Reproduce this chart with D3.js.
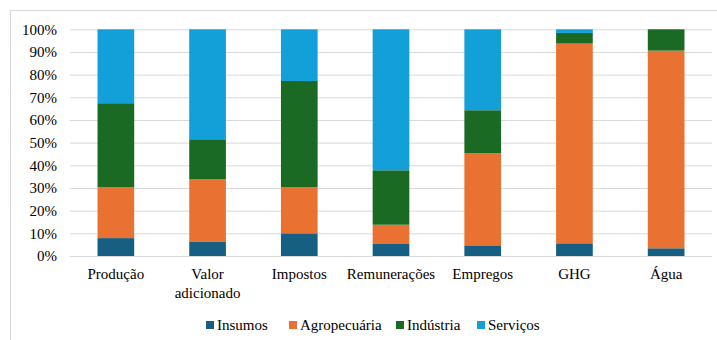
<!DOCTYPE html>
<html><head><meta charset="utf-8">
<script src="https://cdn.jsdelivr.net/npm/d3@7"></script>
<style>body{margin:0;background:#fff}svg{display:block}</style>
</head><body><svg id="c" width="717" height="340" style="font-family:'Liberation Serif',serif"></svg>
<script>
const categories = ["Produção", "Valor adicionado", "Impostos", "Remunerações", "Empregos", "GHG", "Água"];
const seriesNames = ["Insumos", "Agropecuária", "Indústria", "Serviços"];
const insumos      = [7.9, 6.2, 10.0, 5.3, 4.7, 5.6, 3.4];
const agropecuaria = [22.5, 27.6, 20.4, 8.5, 40.7, 88.1, 87.2];
const industria    = [37.0, 17.7, 46.8, 24.0, 18.9, 4.7, 9.4];
const servicos     = [32.6, 48.5, 22.8, 62.2, 35.7, 1.6, 0.0];
const yTicks = [0, 10, 20, 30, 40, 50, 60, 70, 80, 90, 100];
const colors = ["#175f82", "#e97232", "#1b6a24", "#13a0d8"];

const TXT = "font-family:'Liberation Serif',serif !important;font-size:15px;";
const svg = d3.select("#c");
svg.append("rect").attr("x", 10.5).attr("y", 10.5).attr("width", 720).attr("height", 340)
  .attr("fill", "none").attr("stroke", "#d9d9d9");

const mLeft = 70, mRight = 712, mTop = 29.3, mBottom = 256;
const x = d3.scaleBand().domain(categories).range([mLeft, mRight]).paddingInner(0.6).paddingOuter(0.3);
const y = d3.scaleLinear().domain([0, 100]).range([mBottom, mTop]);

const data = categories.map((c, i) => ({cat: c, Insumos: insumos[i], "Agropecuária": agropecuaria[i], "Indústria": industria[i], "Serviços": servicos[i]}));
const stack = d3.stack().keys(seriesNames)(data);

const yAxis = d3.axisLeft(y).tickValues(yTicks).tickSize(-(mRight - mLeft)).tickFormat(d => d + "%");
const gy = svg.append("g").attr("transform", `translate(${mLeft},0)`).call(yAxis).attr("font-family", null);
gy.select(".domain").remove();
gy.selectAll(".tick line").attr("stroke", "#d9d9d9").attr("stroke-width", 1);
gy.selectAll(".tick text").attr("x", -13).attr("style", TXT).attr("fill", "#000");

svg.append("g").selectAll("g").data(stack).join("g").attr("fill", (d, i) => colors[i])
  .selectAll("rect").data(d => d).join("rect")
  .attr("x", d => x(d.data.cat)).attr("width", x.bandwidth())
  .attr("y", d => y(d[1])).attr("height", d => y(d[0]) - y(d[1]));

const xAxis = d3.axisBottom(x).tickSize(0).tickPadding(0);
const gx = svg.append("g").attr("transform", `translate(0,${mBottom})`).call(xAxis).attr("font-family", null);
gx.select(".domain").remove();
gx.selectAll(".tick text").each(function(d) {
  const t = d3.select(this).text(null).attr("style", TXT).attr("fill", "#000").attr("dy", null).attr("y", 0);
  const words = d === "Valor adicionado" ? ["Valor", "adicionado"] : [d];
  words.forEach((w, i) => t.append("tspan").attr("x", 0).attr("y", 23 + i * 19).text(w));
});

const legendX = [206, 289, 396, 477];
const lg = svg.append("g");
seriesNames.forEach((s, i) => {
  lg.append("rect").attr("x", legendX[i]).attr("y", 321).attr("width", 8).attr("height", 8).attr("fill", colors[i]);
  lg.append("text").attr("x", legendX[i] + 11).attr("y", 330).attr("style", TXT).attr("fill", "#000").text(s);
});
</script></body></html>
